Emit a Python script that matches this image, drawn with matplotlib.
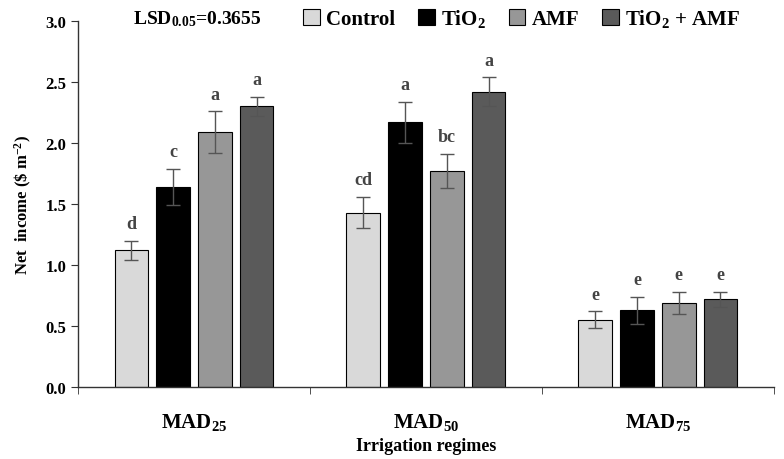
import matplotlib
matplotlib.use("Agg")
import matplotlib.pyplot as plt
import numpy as np

plt.rcParams['font.family'] = ['Liberation Serif', 'DejaVu Serif']
plt.rcParams['font.weight'] = 'bold'
plt.rcParams['mathtext.default'] = 'regular'

regimes = ['MAD$_{25}$', 'MAD$_{50}$', 'MAD$_{75}$']
treatments = ['Control', 'TiO$_2$', 'AMF', 'TiO$_2$ + AMF']
colors = ['#d9d9d9', '#000000', '#979797', '#5a5a5a']

control = [1.12, 1.43, 0.55]
tio2 = [1.64, 2.17, 0.63]
amf = [2.09, 1.77, 0.69]
tio2_amf = [2.30, 2.42, 0.72]

control_err = [0.08, 0.13, 0.07]
tio2_err = [0.15, 0.17, 0.11]
amf_err = [0.17, 0.14, 0.09]
tio2_amf_err = [0.08, 0.12, 0.06]

letters = [['d', 'cd', 'e'], ['c', 'a', 'e'], ['a', 'bc', 'e'], ['a', 'a', 'e']]

values = [control, tio2, amf, tio2_amf]
errors = [control_err, tio2_err, amf_err, tio2_amf_err]

fig = plt.figure(figsize=(7.84, 4.60), dpi=100)
ax = fig.add_axes([0.0995, 0.1565, 0.8875, 0.7955])

x = np.arange(len(regimes))
width = 0.145
offsets = [-0.27, -0.09, 0.09, 0.27]
for i in range(4):
    pos = x + offsets[i]
    ax.bar(pos, values[i], width, color=colors[i], edgecolor='black', linewidth=0.8,
           label=treatments[i], zorder=2)
    ax.errorbar(pos, values[i], yerr=errors[i], fmt='none', ecolor='#555555',
                elinewidth=1.0, capsize=5, capthick=1.0, zorder=3)
    for j in range(len(regimes)):
        ax.text(pos[j], values[i][j] + errors[i][j] + 0.07, letters[i][j],
                ha='center', va='bottom', fontsize=13, color='#444444', fontweight='bold')

ax.set_xlim(-0.5, 2.5)
ax.set_ylim(0, 3.0)
ax.set_yticks(np.arange(0, 3.01, 0.5))
ax.set_yticklabels([f'{v:.1f}' for v in np.arange(0, 3.01, 0.5)], fontsize=12, fontweight='bold')
ax.set_xticks(x)
ax.set_xticklabels(regimes, fontsize=15, fontweight='bold')
ax.tick_params(axis='x', length=0, pad=17)
ax.set_xticks([-0.5, 0.5, 1.5, 2.5], minor=True)
ax.tick_params(axis='x', which='minor', length=5, direction='out', color='#333333')
ax.tick_params(axis='y', length=5, direction='out', color='#333333')
for s in ['top', 'right']:
    ax.spines[s].set_visible(False)
for s in ['left', 'bottom']:
    ax.spines[s].set_color('#333333')
    ax.spines[s].set_linewidth(1.0)

ax.set_ylabel(r'Net  income (\$ m$^{-2}$)', fontsize=12, fontweight='bold', labelpad=8)
ax.set_xlabel('Irrigation regimes', fontsize=13, fontweight='bold', labelpad=4)

fig.text(0.17, 0.958, 'LSD$_{0.05}$=0.3655', fontsize=14, fontweight='bold', va='center', ha='left')
leg = fig.legend(loc='center', bbox_to_anchor=(0.665, 0.958), ncol=4, frameon=False,
                 handlelength=0.8, handleheight=0.8, handletextpad=0.3,
                 columnspacing=1.1, prop={'weight': 'bold', 'size': 15})

fig.savefig('out.png', dpi=100)
